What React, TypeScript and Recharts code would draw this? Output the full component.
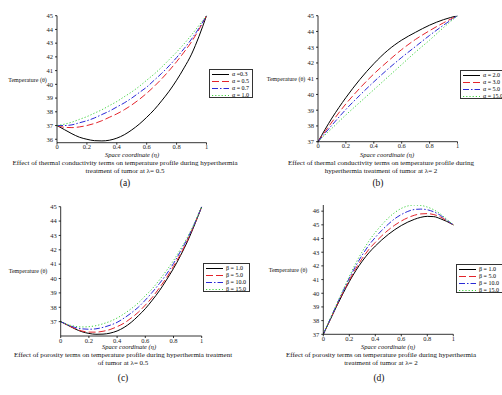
import React from "react";
import { LineChart, Line, XAxis, YAxis } from "recharts";

// ---------- data ----------
const ETA = [0, 0.05, 0.1, 0.15, 0.2, 0.25, 0.3, 0.35, 0.4, 0.45, 0.5, 0.55, 0.6, 0.65, 0.7, 0.75, 0.8, 0.85, 0.9, 0.95, 1];
const ETA_B = [0, 0.1, 0.2, 0.3, 0.4, 0.5, 0.6, 0.7, 0.8, 0.9, 1];
const X_TICKS = [0, 0.2, 0.4, 0.6, 0.8, 1];

// (a) thermal conductivity, lambda = 0.5
const A_NAMES = ["α =0.3", "α = 0.5", "α = 0.7", "α = 1.0"];
const A_03 = [37, 36.7, 36.4, 36.15, 36.0, 35.9, 35.88, 35.93, 36.08, 36.33, 36.68, 37.1, 37.6, 38.15, 38.8, 39.5, 40.3, 41.2, 42.2, 43.5, 45];
const A_05 = [37, 36.87, 36.85, 36.9, 37.0, 37.15, 37.35, 37.6, 37.85, 38.15, 38.5, 38.9, 39.35, 39.85, 40.4, 41.0, 41.65, 42.35, 43.1, 44.0, 45];
const A_07 = [37, 37.0, 37.05, 37.2, 37.35, 37.55, 37.8, 38.05, 38.35, 38.65, 39.0, 39.4, 39.8, 40.3, 40.8, 41.35, 41.95, 42.6, 43.3, 44.1, 45];
const A_10 = [37, 37.1, 37.25, 37.45, 37.65, 37.9, 38.15, 38.45, 38.75, 39.1, 39.45, 39.85, 40.3, 40.75, 41.25, 41.8, 42.35, 42.95, 43.6, 44.3, 45];
const A_Y_TICKS = [36, 37, 38, 39, 40, 41, 42, 43, 44, 45];

// (b) thermal conductivity, lambda = 2
const B_NAMES = ["α = 2.0", "α = 3.0", "α = 5.0", "α = 15.0"];
const B_2 = [37, 38.5, 39.8, 40.95, 41.95, 42.8, 43.45, 43.95, 44.4, 44.75, 45];
const B_3 = [37, 38.25, 39.4, 40.4, 41.3, 42.1, 42.85, 43.5, 44.05, 44.55, 45];
const B_5 = [37, 38.05, 39.05, 39.95, 40.8, 41.6, 42.35, 43.05, 43.75, 44.4, 45];
const B_15 = [37, 37.85, 38.7, 39.5, 40.3, 41.1, 41.9, 42.7, 43.45, 44.25, 45];
const B_Y_TICKS = [37, 38, 39, 40, 41, 42, 43, 44, 45];

// (c) porosity, lambda = 0.5
const C_NAMES = ["β = 1.0", "β = 5.0", "β = 10.0", "β = 15.0"];
const C_1 = [37, 36.75, 36.5, 36.3, 36.18, 36.12, 36.13, 36.2, 36.35, 36.6, 36.95, 37.4, 37.9, 38.5, 39.15, 39.9, 40.7, 41.6, 42.6, 43.75, 45];
const C_5 = [37, 36.75, 36.52, 36.35, 36.27, 36.27, 36.33, 36.45, 36.65, 36.9, 37.25, 37.65, 38.15, 38.7, 39.35, 40.05, 40.85, 41.7, 42.7, 43.8, 45];
const C_10 = [37, 36.78, 36.6, 36.5, 36.47, 36.5, 36.6, 36.75, 36.95, 37.25, 37.6, 38.0, 38.5, 39.05, 39.65, 40.3, 41.05, 41.9, 42.8, 43.85, 45];
const C_15 = [37, 36.8, 36.68, 36.63, 36.65, 36.72, 36.85, 37.02, 37.25, 37.55, 37.9, 38.3, 38.8, 39.3, 39.9, 40.55, 41.25, 42.05, 42.9, 43.9, 45];
const C_Y_TICKS = [37, 38, 39, 40, 41, 42, 43, 44, 45];

// (d) porosity, lambda = 2
const D_NAMES = ["β = 1.0", "β = 5.0", "β = 10.0", "β = 15.0"];
const D_1 = [37, 38.0, 39.0, 39.95, 40.85, 41.65, 42.35, 42.95, 43.45, 43.9, 44.3, 44.65, 44.95, 45.2, 45.4, 45.55, 45.62, 45.6, 45.45, 45.25, 45];
const D_5 = [37, 38.02, 39.05, 40.02, 40.95, 41.8, 42.55, 43.2, 43.72, 44.2, 44.62, 44.98, 45.28, 45.52, 45.7, 45.8, 45.82, 45.75, 45.58, 45.3, 45];
const D_10 = [37, 38.05, 39.1, 40.12, 41.1, 42.0, 42.8, 43.5, 44.08, 44.6, 45.05, 45.45, 45.75, 45.98, 46.12, 46.15, 46.1, 45.95, 45.7, 45.35, 45];
const D_15 = [37, 38.08, 39.15, 40.2, 41.22, 42.2, 43.05, 43.8, 44.45, 45.0, 45.5, 45.9, 46.2, 46.38, 46.45, 46.42, 46.3, 46.1, 45.8, 45.4, 45];
const D_Y_TICKS = [37, 38, 39, 40, 41, 42, 43, 44, 45, 46];

// ---------- styles ----------
const FONT = "'Liberation Serif', 'DejaVu Serif', serif";
const STYLES = [
  { color: "#000000", dash: undefined as string | undefined },
  { color: "#e3242b", dash: "7 3" },
  { color: "#2a2ad6", dash: "6 2 1.5 2" },
  { color: "#3fd13f", dash: "1.2 2" },
];

function rows(xs: number[], series: number[][]) {
  return xs.map((x, i) => {
    const r: Record<string, number> = { x };
    series.forEach((s, k) => (r["s" + k] = s[i]));
    return r;
  });
}

type PanelProps = {
  left: number;
  top: number;
  width: number;
  height: number;
  yAxisWidth: number;
  mTop: number;
  mRight: number;
  mBottom: number;
  xs: number[];
  series: number[][];
  yDomain: [number, number];
  yTicks: number[];
};

const tickStyle = { fontSize: 6.5, fontFamily: FONT, fill: "#222" };

function Panel(p: PanelProps) {
  const data = rows(p.xs, p.series);
  return (
    <div style={{ position: "absolute", left: p.left, top: p.top }}>
      <LineChart
        width={p.width}
        height={p.height}
        data={data}
        margin={{ top: p.mTop, right: p.mRight, bottom: p.mBottom, left: 0 }}
      >
        <XAxis
          dataKey="x"
          type="number"
          domain={[0, 1]}
          ticks={X_TICKS}
          tick={tickStyle}
          tickSize={2}
          tickMargin={0}
          height={20}
          stroke="#000"
          strokeWidth={0.8}
          interval={0}
        />
        <YAxis
          type="number"
          domain={p.yDomain}
          ticks={p.yTicks}
          tick={tickStyle}
          tickSize={2}
          tickMargin={2}
          width={p.yAxisWidth}
          stroke="#000"
          strokeWidth={0.8}
          allowDataOverflow
          interval={0}
        />
        {p.series.map((_, k) => (
          <Line
            key={k}
            dataKey={"s" + k}
            type="monotone"
            stroke={STYLES[k].color}
            strokeDasharray={STYLES[k].dash}
            strokeWidth={1}
            dot={false}
            isAnimationActive={false}
          />
        ))}
      </LineChart>
    </div>
  );
}

function LegendBox({ left, top, names, width }: { left: number; top: number; names: string[]; width: number }) {
  return (
    <div
      style={{
        position: "absolute",
        left,
        top,
        width,
        height: 29,
        border: "0.8px solid #333",
        background: "#fff",
        boxSizing: "border-box",
        fontFamily: FONT,
        fontSize: 6,
        lineHeight: "7px",
        padding: "1px 0 0 2px",
        whiteSpace: "nowrap",
      }}
    >
      {names.map((n, k) => (
        <div key={k} style={{ height: 7, display: "flex", alignItems: "center" }}>
          <svg width={17} height={7} style={{ marginRight: 3 }}>
            <line x1={0} y1={3.5} x2={17} y2={3.5} stroke={STYLES[k].color} strokeWidth={1} strokeDasharray={STYLES[k].dash} />
          </svg>
          <span>{n}</span>
        </div>
      ))}
    </div>
  );
}

function Txt({ x, y, children, size = 7, italic = false }: { x: number; y: number; children: React.ReactNode; size?: number; italic?: boolean }) {
  return (
    <div
      style={{
        position: "absolute",
        left: x,
        top: y,
        transform: "translate(-50%, -50%)",
        whiteSpace: "nowrap",
        fontFamily: FONT,
        fontSize: size,
        fontStyle: italic ? "italic" : "normal",
        color: "#111",
        lineHeight: 1,
      }}
    >
      {children}
    </div>
  );
}

export default function App() {
  return (
    <div
      style={{
        position: "absolute",
        left: 0,
        top: 0,
        width: 502,
        height: 395,
        overflow: "hidden",
        background: "#fff",
      }}
    >
      {/* (a) */}
      <Panel left={0} top={0} width={250} height={200} yAxisWidth={57} mTop={15.7} mRight={43.5} mBottom={37.3}
        xs={ETA} series={[A_03, A_05, A_07, A_10]} yDomain={[35.75, 45]} yTicks={A_Y_TICKS} />
      <Txt x={27.5} y={80} size={6}>Temperature (θ)</Txt>
      <Txt x={132} y={155} size={6.5} italic>Space coordinate (η)</Txt>
      <Txt x={125} y={163.2}>Effect of thermal conductivity terms on temperature profile during hyperthermia</Txt>
      <Txt x={125} y={171}>treatment of tumor at λ= 0.5</Txt>
      <Txt x={125} y={184} size={9.5}>(a)</Txt>
      <LegendBox left={209} top={69} names={A_NAMES} width={44} />

      {/* (b) */}
      <Panel left={250} top={0} width={252} height={200} yAxisWidth={68} mTop={15.7} mRight={44.5} mBottom={38.3}
        xs={ETA_B} series={[B_2, B_3, B_5, B_15]} yDomain={[37, 45]} yTicks={B_Y_TICKS} />
      <Txt x={286} y={79} size={6}>Temperature (θ)</Txt>
      <Txt x={387} y={155} size={6.5} italic>Space coordinate (η)</Txt>
      <Txt x={381} y={163}>Effect of  thermal conductivity terms on temperature profile during</Txt>
      <Txt x={381} y={170.7}>hyperthermia treatment of tumor at λ= 2</Txt>
      <Txt x={378} y={184} size={9.5}>(b)</Txt>
      <LegendBox left={460} top={70} names={B_NAMES} width={48} />

      {/* (c) */}
      <Panel left={0} top={190} width={250} height={205} yAxisWidth={60.7} mTop={16.7} mRight={48.3} mBottom={39}
        xs={ETA} series={[C_1, C_5, C_10, C_15]} yDomain={[36, 45]} yTicks={C_Y_TICKS} />
      <Txt x={28} y={271} size={6}>Temperature (θ)</Txt>
      <Txt x={129} y={347.3} size={6.5} italic>Space coordinate (η)</Txt>
      <Txt x={123} y={355}>Effect of porosity terms on temperature profile during hyperthermia treatment</Txt>
      <Txt x={123} y={362.7}>of tumor at λ= 0.5</Txt>
      <Txt x={123} y={379.3} size={9.5}>(c)</Txt>
      <LegendBox left={203} top={263} names={C_NAMES} width={47} />

      {/* (d) */}
      <Panel left={250} top={190} width={252} height={205} yAxisWidth={73.3} mTop={15} mRight={48.7} mBottom={40.7}
        xs={ETA} series={[D_1, D_5, D_10, D_15]} yDomain={[37, 46.45]} yTicks={D_Y_TICKS} />
      <Txt x={288} y={270.3} size={6}>Temperature (θ)</Txt>
      <Txt x={388} y={347} size={6.5} italic>Space coordinate (η)</Txt>
      <Txt x={381} y={355}>Effect of porosity terms on temperature profile during hyperthermia</Txt>
      <Txt x={381} y={362.7}>treatment of tumor at λ= 2</Txt>
      <Txt x={379} y={379} size={9.5}>(d)</Txt>
      <LegendBox left={456} top={264} names={D_NAMES} width={50} />
    </div>
  );
}
